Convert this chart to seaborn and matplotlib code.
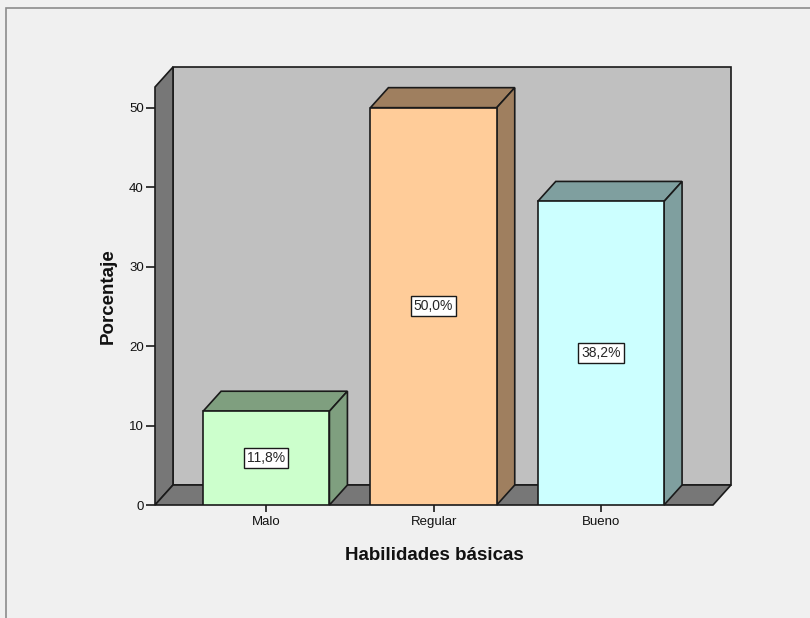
# SPSS-style 3D bar chart --------------------------------------------------------------
import numpy as np
import pandas as pd
import matplotlib
matplotlib.use('Agg')
import matplotlib.pyplot as plt
from matplotlib.patches import Polygon, Rectangle
import seaborn as sns

# DATA ---------------------------------------------------------------------------------
categories = ['Malo', 'Regular', 'Bueno']
percentages = [11.8, 50.0, 38.2]
value_labels = ['11,8%', '50,0%', '38,2%']
y_ticks = [0, 10, 20, 30, 40, 50]

front_colors = ['#CCFFCC', '#FFCC99', '#CCFFFF']
side_colors = ['#7F9F7F', '#9F7F5F', '#7F9F9F']

df = pd.DataFrame({'Habilidades': categories, 'Porcentaje': percentages})

# FIGURE -------------------------------------------------------------------------------
sns.set_style('white')
plt.rcParams['font.family'] = ['Liberation Sans', 'DejaVu Sans']

W, H = 810, 618
fig = plt.figure(figsize=(W / 100, H / 100), dpi=100, facecolor='#F0F0F0')

# outer frame
fig.patches.append(Rectangle((6 / W, -0.02), 1.02, 1 - 8 / H + 0.02, transform=fig.transFigure,
                             facecolor='none', edgecolor='#8C8C8C', linewidth=1.2))

# axes = front plane of the 3D box (pixels)
x0, x1, y0, y1 = 155, 713, 505, 87
ax = fig.add_axes([x0 / W, 1 - y0 / H, (x1 - x0) / W, (y0 - y1) / H])
ax.patch.set_visible(False)

xlim = (-0.665, 2.67)
ylim = (0, 52.6)

# front faces of the bars
sns.barplot(data=df, x='Habilidades', y='Porcentaje', hue='Habilidades',
            palette=front_colors, legend=False, width=0.755,
            edgecolor='#1A1A1A', linewidth=1.2, saturation=1, ax=ax, zorder=2)
ax.set_xlim(*xlim)
ax.set_ylim(*ylim)
bars = [p for c in ax.containers for p in c]

# depth offset in data units (18 px right, 20 px up)
px_x = (x1 - x0) / (xlim[1] - xlim[0])
px_y = (y0 - y1) / (ylim[1] - ylim[0])
dx, dy = 18 / px_x, 20 / px_y

L, R, T = xlim[0], xlim[1], ylim[1]
edge = dict(edgecolor='#1A1A1A', linewidth=1.2, clip_on=False)

# back wall, left wall, floor
ax.add_patch(Polygon([(L + dx, dy), (R + dx, dy), (R + dx, T + dy), (L + dx, T + dy)],
                     facecolor='#C0C0C0', zorder=0.1, **edge))
ax.add_patch(Polygon([(L, 0), (L, T), (L + dx, T + dy), (L + dx, dy)],
                     facecolor='#777777', zorder=0.2, **edge))
ax.add_patch(Polygon([(L, 0), (R, 0), (R + dx, dy), (L + dx, dy)],
                     facecolor='#777777', zorder=0.2, **edge))

# tops and sides from the drawn bars
for bar, side, lab in zip(bars, side_colors, value_labels):
    bx, bw, bh = bar.get_x(), bar.get_width(), bar.get_height()
    ax.add_patch(Polygon([(bx, bh), (bx + bw, bh), (bx + bw + dx, bh + dy), (bx + dx, bh + dy)],
                         facecolor=side, zorder=1.5, **edge))
    ax.add_patch(Polygon([(bx + bw, 0), (bx + bw + dx, dy), (bx + bw + dx, bh + dy), (bx + bw, bh)],
                         facecolor=side, zorder=1.5, **edge))
    ax.text(bx + bw / 2, bh / 2, lab, ha='center', va='center', fontsize=10, zorder=3,
            bbox=dict(boxstyle='square,pad=0.22', facecolor='white', edgecolor='#1A1A1A', linewidth=1))

# axes cosmetics
for s in ax.spines.values():
    s.set_visible(False)
ax.set_yticks(y_ticks)
ax.tick_params(axis='y', direction='out', length=6.5, width=1.2, color='#1A1A1A',
               labelsize=9.5, labelcolor='#111111', pad=1.5, left=True)
ax.tick_params(axis='x', direction='out', length=5, width=1.2, color='#1A1A1A',
               labelsize=9.5, labelcolor='#111111', pad=3, bottom=True)

ax.set_xlabel('Habilidades básicas', fontsize=13.5, fontweight='bold', color='#111111')
ax.set_ylabel('Porcentaje', fontsize=13.5, fontweight='bold', color='#111111')
ax.xaxis.set_label_coords(0.5, (y0 - 556) / (y0 - y1))
ax.xaxis.label.set_va('center')
ax.yaxis.set_label_coords((108 - x0) / (x1 - x0), 0.5)
ax.yaxis.label.set_va('center')

fig.savefig('out.png', dpi=100, facecolor=fig.get_facecolor())
